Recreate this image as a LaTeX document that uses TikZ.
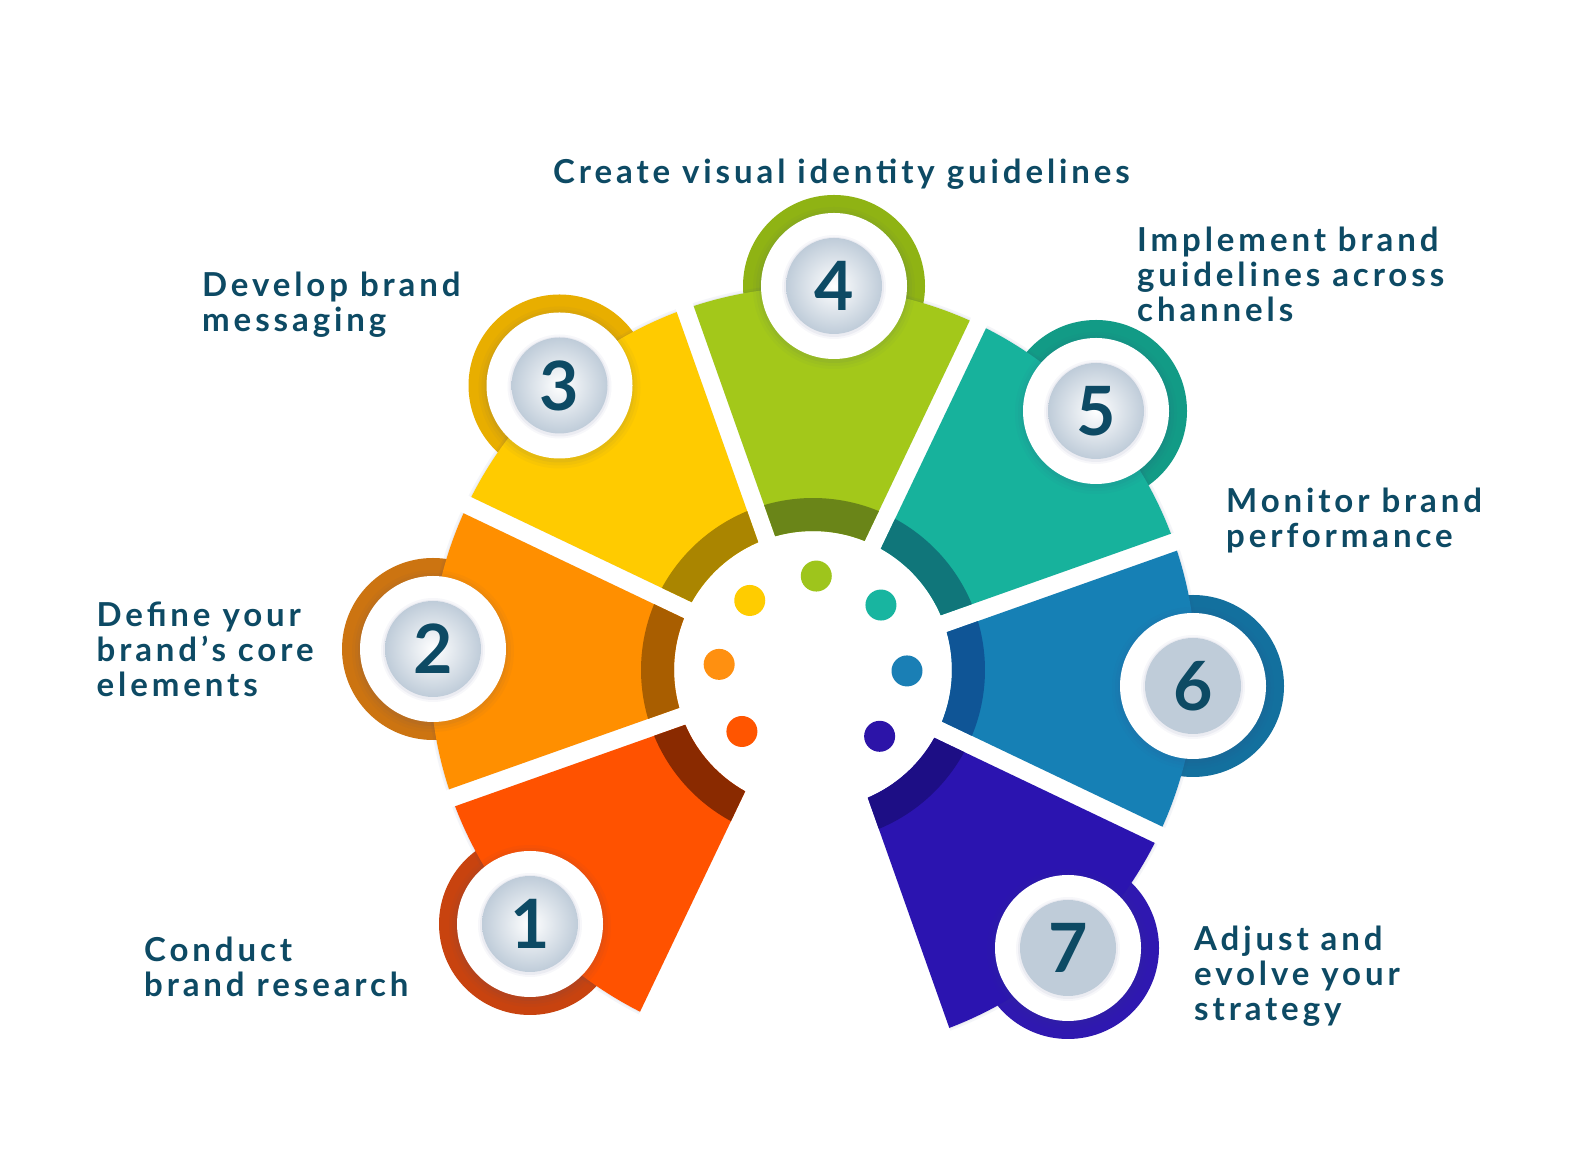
\documentclass[tikz,border=0pt]{standalone}
\usepackage{fontspec}
\setmainfont{Lato}[LetterSpace=11.8]
\usetikzlibrary{calc}
\definecolor{txt}{HTML}{0D4A64}
\definecolor{sA}{HTML}{FF5200}\definecolor{bA}{HTML}{8A2A00}\definecolor{rA}{HTML}{C8430F}\definecolor{dA}{HTML}{FF5500}
\definecolor{sB}{HTML}{FF8F00}\definecolor{bB}{HTML}{A95E00}\definecolor{rB}{HTML}{CC7411}\definecolor{dB}{HTML}{FF9010}
\definecolor{sC}{HTML}{FFCB00}\definecolor{bC}{HTML}{AA8500}\definecolor{rC}{HTML}{E8AE00}\definecolor{dC}{HTML}{FFCC00}
\definecolor{sD}{HTML}{A3C81A}\definecolor{bD}{HTML}{6A8518}\definecolor{rD}{HTML}{8FB314}\definecolor{dD}{HTML}{9EC51C}
\definecolor{sE}{HTML}{17B29C}\definecolor{bE}{HTML}{10767A}\definecolor{rE}{HTML}{129B86}\definecolor{dE}{HTML}{18B5A0}
\definecolor{sF}{HTML}{1680B5}\definecolor{bF}{HTML}{0F5596}\definecolor{rF}{HTML}{13709E}\definecolor{dF}{HTML}{1A7FB5}
\definecolor{sG}{HTML}{2B14B0}\definecolor{bG}{HTML}{1D0E85}\definecolor{rG}{HTML}{2F18B0}\definecolor{dG}{HTML}{2C14A8}
\definecolor{greyd}{HTML}{BFCCD9}
\definecolor{shd}{HTML}{3A4A80}
\newcommand\segcalc[3]{% #1 a1, #2 a2, #3 outer radius
 \pgfmathsetmacro\ai{#1+asin(9/139)}%
 \pgfmathsetmacro\ao{#1+asin(9/#3)}%
 \pgfmathsetmacro\bo{#2-asin(9/#3)}%
 \pgfmathsetmacro\bi{#2-asin(9/139)}%
}
\newcommand\segpath[1]{%
 ($(C)+(\ai:139)$) -- ($(C)+(\ao:#1)$) arc[start angle=\ao, end angle=\bo, radius=#1] -- ($(C)+(\bi:139)$) arc[start angle=\bi, end angle=\ai, radius=139] -- cycle
}
\newcommand\wheelseg[4]{%
 \segcalc{#1}{#2}{383}\fill[#3] \segpath{383};
 \segcalc{#1}{#2}{172}\fill[#4] \segpath{172};
}
\newcommand\segshadow[2]{%
 \segcalc{#1}{#2}{386}\fill[shd, opacity=0.05, shift={(2,-5)}] \segpath{386};
 \segcalc{#1}{#2}{384}\fill[shd, opacity=0.06, shift={(1,-3)}] \segpath{384};
}
\tikzset{
 lbl/.style={font=\fontsize{33}{35}\selectfont\bfseries, text=txt, align=left, inner sep=0pt, anchor=base west},
 num/.style={font=\fontsize{68}{68}\selectfont\bfseries, text=txt, inner sep=0pt},
 dotc/.style={circle, fill=#1, minimum size=31pt, inner sep=0pt},
}
\begin{document}
\begin{tikzpicture}[x=1pt,y=1pt]
\useasboundingbox[fill=white] (0,0) rectangle (1577,1172);
\coordinate (C) at (813,502);
\coordinate (b1) at (530,248);
\coordinate (b2) at (433,523);
\coordinate (b3) at (559.5,786.5);
\coordinate (b4) at (834,886);
\coordinate (b5) at (1096,761);
\coordinate (b6) at (1193,486);
\coordinate (b7) at (1068,224);
% rings
\foreach \b/\c in {b1/rA,b2/rB,b3/rC,b4/rD,b5/rE,b6/rF,b7/rG}
  \fill[\c] (\b) circle[radius=91];
% segment shadows
\segshadow{199.5}{244.5}
\segshadow{154.5}{199.5}
\segshadow{109.5}{154.5}
\segshadow{64.5}{109.5}
\segshadow{19.5}{64.5}
\segshadow{-25.5}{19.5}
\segshadow{-70.5}{-25.5}
% segments
\wheelseg{199.5}{244.5}{sA}{bA}
\wheelseg{154.5}{199.5}{sB}{bB}
\wheelseg{109.5}{154.5}{sC}{bC}
\wheelseg{64.5}{109.5}{sD}{bD}
\wheelseg{19.5}{64.5}{sE}{bE}
\wheelseg{-25.5}{19.5}{sF}{bF}
\wheelseg{-70.5}{-25.5}{sG}{bG}
% badges
\foreach \b in {b1,b2,b3,b4,b5,b6,b7}{
  \foreach \k/\o in {8/0.03,5/0.04,2/0.06}
    \fill[shd, opacity=\o] ($(\b)+(0,-2)$) circle[radius=73+\k];
  \fill[white] (\b) circle[radius=73];
  \foreach \k/\o in {4/0.04,2/0.06}
    \fill[shd, opacity=\o] ($(\b)+(0,-1)$) circle[radius=48+\k];
}
\foreach \b in {b1,b2,b3,b4,b5}
  \shade[inner color=white, outer color=greyd] (\b) circle[radius=48];
\foreach \b in {b6,b7}
  \fill[greyd] (\b) circle[radius=48];
\node[num] (n1) at (b1) {1};
\node[num] (n2) at (b2) {2};
\node[num] (n3) at (b3) {3};
\node[num] (n4) at (b4) {4};
\node[num] (n5) at (b5) {5};
\node[num] (n6) at (b6) {6};
\node[num] (n7) at (b7) {7};
% dots
\node[dotc=dA] (d1) at ($(C)+(220.86:94)$) {};
\node[dotc=dB] (d2) at ($(C)+(176.57:94)$) {};
\node[dotc=dC] (d3) at ($(C)+(132.29:94)$) {};
\node[dotc=dD] (d4) at ($(C)+(88:94)$) {};
\node[dotc=dE] (d5) at ($(C)+(43.71:94)$) {};
\node[dotc=dF] (d6) at ($(C)+(-0.57:94)$) {};
\node[dotc=dG] (d7) at ($(C)+(-44.86:94)$) {};
% labels (base = last line)
\node[lbl] (t4) at (553,988) {Create visual identity guidelines};
\node[lbl] (t3) at (202,840) {Develop brand\\messaging};
\node[lbl] (t5) at (1137,850) {Implement brand\\guidelines across\\channels};
\node[lbl] (t2) at (96.5,475) {Define your\\brand’s core\\elements};
\node[lbl] (t6) at (1226,624) {Monitor brand\\performance};
\node[lbl] (t1) at (144,175) {Conduct\\brand research};
\node[lbl] (t7) at (1194,151) {Adjust and\\evolve your\\strategy};
\end{tikzpicture}
\end{document}
